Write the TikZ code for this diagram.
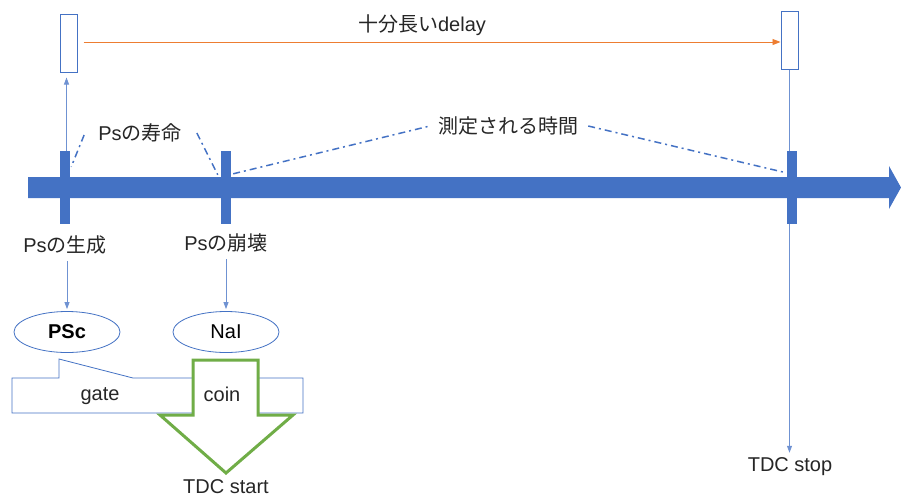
\documentclass[tikz,border=0pt]{standalone}
\usepackage{fontspec}
\setmainfont{Liberation Sans}
\newfontfamily\jp{Noto Sans CJK JP}
\usetikzlibrary{arrows.meta,shapes.geometric,calc}
\definecolor{oblue}{HTML}{4472C4}
\definecolor{lblue}{HTML}{6F92D2}
\definecolor{oorange}{HTML}{ED7D31}
\definecolor{ogreen}{HTML}{70AD47}
\begin{document}
\begin{tikzpicture}[x=1pt,y=-1pt,
  font=\fontsize{20}{24}\selectfont,
  lbl/.style={inner sep=0pt, text=black!85},
  slot/.style={draw=oblue, line width=1pt, fill=white, minimum width=17pt, minimum height=58pt, inner sep=0pt},
  tick/.style={fill=oblue, minimum width=10pt, minimum height=73pt, inner sep=0pt},
  thinarrow/.style={draw=lblue, line width=0.8pt, -{Triangle[length=7pt,width=5pt]}},
  dashdot/.style={draw=oblue, line width=1.5pt, dash pattern=on 7pt off 4pt on 2pt off 4pt},
  det/.style={ellipse, draw=oblue, line width=0.8pt, fill=white, minimum width=106pt, minimum height=41pt, inner sep=0pt, text=black},
  outline/.style={draw=oblue, line width=0.8pt, fill=white}]
\useasboundingbox (0,0) rectangle (901,499);

% delay slots
\node[slot] (rl) at (68.5,43) {};
\node[slot] (rr) at (789.5,40.5) {};
\node[lbl] (delay) at (422,25) {{\jp 十分長い}delay};
\draw[draw=oorange, line width=0.9pt, -{Triangle[length=8pt,width=6pt]}, shorten <=6pt] (rl.east |- 0,42) -- (rr.west |- 0,42);

% stop line (under the axis)
\node[lbl] (stop) at (790,467) {TDC stop};
\draw[thinarrow, shorten >=5pt] (rr.south) -- (rr.south |- stop.north);

% time axis
\fill[oblue] (28,177) -- (889,177) -- (889,166) -- (901,187.5) -- (889,209) -- (889,198) -- (28,198) -- cycle;
\node[tick] (t1) at (65,187.5) {};
\node[tick] (t2) at (226,187.5) {};
\node[tick] (t3) at (791.5,187.5) {};

% labels on axis
\node[lbl] (life) at (140,133) {Ps{\jp の寿命}};
\node[lbl] (meas) at (508,126) {\jp 測定される時間};
\node[lbl] (gen) at (65,245) {Ps{\jp の生成}};
\node[lbl] (dec) at (226,243) {Ps{\jp の崩壊}};

\draw[dashdot] ($(life.west)+(-14,2)$) -- ($(t1.north east)+(1,16)$);
\draw[dashdot] ($(life.east)+(15,0)$) -- ($(t2.north west)+(-3,24)$);
\draw[dashdot] ($(t2.north east)+(2,23)$) -- ($(meas.west)+(-8,0)$);
\draw[dashdot] ($(meas.east)+(10,0)$) -- ($(t3.north west)+(0,22)$);

% vertical connector to start slot
\draw[thinarrow, shorten >=5pt] ($(t1.north)+(1.5,0)$) -- ($(t1.north |- rl.south)+(1.5,0)$);

% detectors
\node[det] (psc) at (67,332) {\textbf{PSc}};
\node[det] (nai) at (226,332) {NaI};
\draw[thinarrow, shorten <=7pt, shorten >=2pt] (gen.south -| psc.north) -- (psc.north);
\draw[thinarrow, shorten <=7pt, shorten >=2pt] (dec.south -| nai.north) -- (nai.north);

% gate callout
\draw[outline] (12,378) -- (59,378) -- (59,359) -- (133,378) -- (303,378) -- (303,413) -- (12,413) -- cycle;
\node[lbl] (gate) at (100,396) {gate};

% coincidence arrow
\draw[draw=ogreen, line width=3pt, fill=white, line join=miter]
  (193,360) -- (258,360) -- (258,415) -- (293,415) -- (226,473) -- (160,415) -- (193,415) -- cycle;
\node[lbl] (coin) at (222,394) {coin};
\node[lbl] (start) at (226,487) {TDC start};
\end{tikzpicture}
\end{document}
